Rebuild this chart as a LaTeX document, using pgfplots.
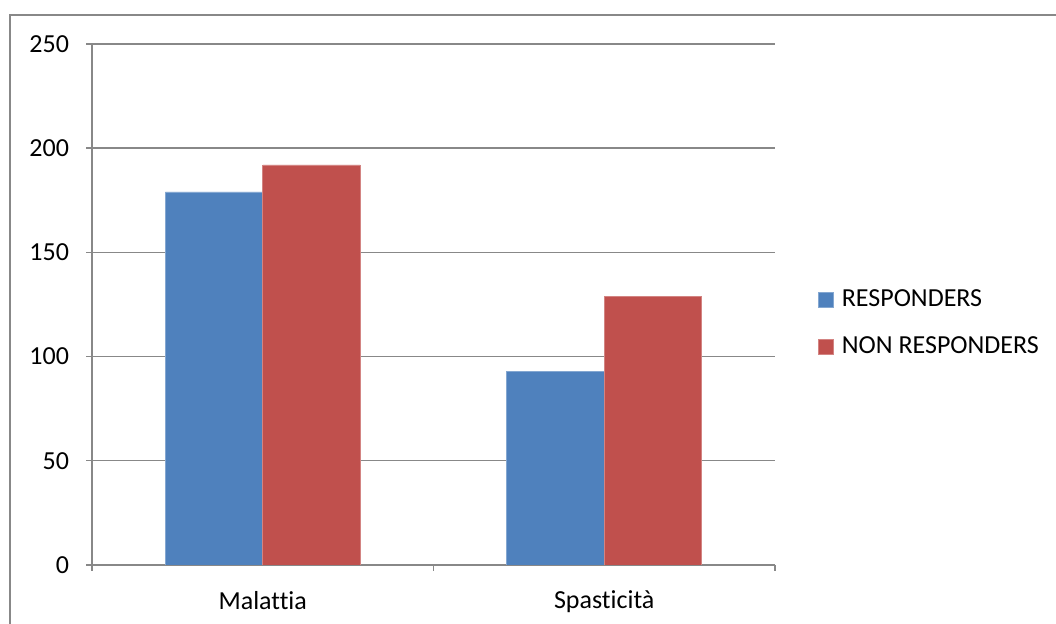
\documentclass[border=0pt]{standalone}
\usepackage{fontspec}
\setmainfont{Carlito}[Ligatures={NoCommon}]
\usepackage{pgfplots}
\pgfplotsset{compat=1.18}

\definecolor{respBlue}{HTML}{4F81BD}
\definecolor{nonRed}{HTML}{C0504D}
\definecolor{frameGray}{HTML}{888888}

\begin{document}
\begin{tikzpicture}
\fontsize{13}{15}\selectfont
% page area and chart frame
\path[use as bounding box] (0pt,0pt) rectangle (528pt,312pt);
\draw[frameGray, line width=0.8pt] (5pt,-2pt) -- (5pt,304.5pt) -- (530pt,304.5pt);

\begin{axis}[
  at={(46pt,29.5pt)}, anchor=south west,
  width=341.5pt, height=260.5pt, scale only axis,
  xmin=-0.5, xmax=1.5, ymin=0, ymax=250,
  axis lines*=left,
  axis line style={frameGray, line width=0.7pt},
  ytick={0,50,...,250},
  ymajorgrids, grid style={frameGray, line width=0.7pt},
  xtick={-0.5,0.5,1.5}, xticklabels={},
  extra x ticks={0,1},
  extra x tick labels={Malattia,Spasticità},
  extra x tick style={major tick length=0pt, grid=none,
    xticklabel style={yshift=-8.5pt}},
  tick align=outside, major tick length=3pt,
  tick style={frameGray, line width=0.7pt},
  xtick pos=bottom, ytick pos=left,
  /pgf/number format/assume math mode=true,
  ticklabel style={font=\fontsize{13}{15}\selectfont},
  yticklabel style={xshift=-4pt},
  legend style={draw=none, fill=none, at={(1.063,0.464)}, anchor=west,
    font=\fontsize{13}{15}\selectfont,
    row sep=13pt, inner sep=0pt,
    cells={anchor=west}},
  legend cell align=left,
  legend image code/.code={\fill[#1] (0pt,-3.6pt) rectangle (7.4pt,3.6pt);},
  legend style={/tikz/every even column/.append style={column sep=0pt}},
  legend style={nodes={inner sep=0pt, outer sep=0pt}},
  legend style={/tikz/every odd column/.append style={column sep=4pt}},
]
\addplot[ybar, bar width=0.2855, bar shift=-0.14275, fill=respBlue, draw=respBlue!70!white, line width=0.3pt]
  coordinates {(0,179) (1,93)};
\addplot[ybar, bar width=0.2855, bar shift=0.14275, fill=nonRed, draw=nonRed!70!white, line width=0.3pt]
  coordinates {(0,192) (1,129)};
\legend{RESPONDERS, NON RESPONDERS}
\end{axis}
\end{tikzpicture}
\end{document}
